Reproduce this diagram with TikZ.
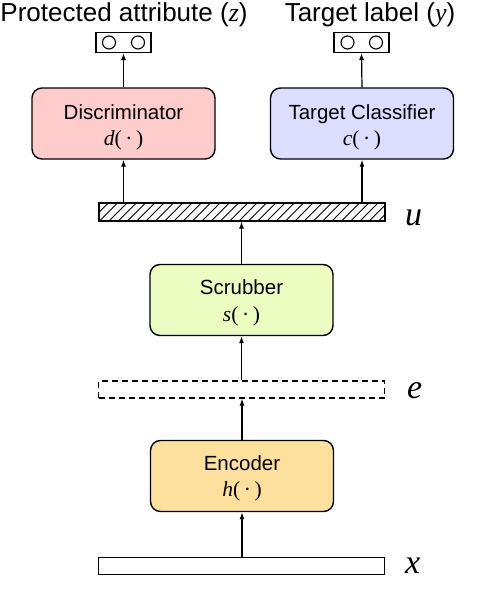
\documentclass[tikz,border=0pt]{standalone}
\usepackage{fontspec}
\setmainfont{Liberation Serif}
\setsansfont{Liberation Sans}
\usetikzlibrary{arrows.meta}
\definecolor{discfill}{HTML}{FFCCCC}
\definecolor{clsfill}{HTML}{DDDDFF}
\definecolor{scrfill}{HTML}{EDFDC2}
\definecolor{encfill}{HTML}{FEE09E}
\begin{document}
\begin{tikzpicture}[x=1pt,y=-1pt,
 box/.style={draw, line width=1.4pt, rounded corners=10pt, minimum width=183pt, minimum height=71pt, inner sep=0pt},
 bar/.style={draw, line width=1.1pt, minimum width=286pt, minimum height=17pt, inner sep=0pt},
 outbox/.style={draw, line width=1.1pt, minimum width=55pt, minimum height=20pt, inner sep=0pt},
 arr/.style={-{Latex[length=7pt,width=5pt]}, line width=1.2pt},
 sflab/.style={font=\sffamily\fontsize{20.5}{22}\selectfont, anchor=base, inner sep=0pt},
 fnlab/.style={font=\fontsize{21.5}{22}\selectfont, anchor=base, inner sep=0pt},
 varlab/.style={font=\itshape\fontsize{34}{36}\selectfont, anchor=base west, inner sep=0pt},
 titlelab/.style={font=\sffamily\fontsize{26}{28}\selectfont, anchor=base, inner sep=0pt},
 dotc/.style={circle, draw, line width=1.1pt, minimum size=13pt, inner sep=0pt}]
\useasboundingbox (0,0) rectangle (486,610);

% titles
\node[titlelab] (tz) at (124,22) {Protected attribute ({\rmfamily\itshape z})};
\node[titlelab] (ty) at (370,22) {Target label ({\rmfamily\itshape y})};

% output boxes
\node[outbox] (oz) at (123.5,42.5) {};
\node[dotc] (oz1) at (109,42.5) {};
\node[dotc] (oz2) at (138,42.5) {};
\node[outbox] (oy) at (361.5,42.5) {};
\node[dotc] (oy1) at (347.5,42.5) {};
\node[dotc] (oy2) at (376,42.5) {};

% discriminator and classifier
\node[box, fill=discfill] (disc) at (123.5,123.5) {};
\node[sflab] (disct) at (123.5,119) {Discriminator};
\node[fnlab] (discf) at (123.5,145) {\textit{d}(\,·\,)};
\node[box, fill=clsfill] (cls) at (362,123.5) {};
\node[sflab] (clst) at (362,119) {Target Classifier};
\node[fnlab] (clsf) at (362,145) {\textit{c}(\,·\,)};

% u bar (hatched)
\node[bar, minimum height=18pt] (u) at (242,212) {};
\begin{scope}
\clip (u.south west) rectangle (u.north east);
\foreach \i in {0,...,34} \draw[line width=0.9pt] (u.south west) ++(\i*9.3-18,0) -- ++(18,-18);
\end{scope}
\node[varlab] (ul) at (405,225) {u};

% scrubber
\node[box, fill=scrfill] (scr) at (241.5,300) {};
\node[sflab] (scrt) at (241.5,294) {Scrubber};
\node[fnlab] (scrf) at (241.5,321) {\textit{s}(\,·\,)};

% e bar (dashed)
\node[bar, dash pattern=on 6pt off 4pt] (e) at (241.5,389.5) {};
\node[varlab] (el) at (407,398) {e};

% encoder
\node[box, fill=encfill] (enc) at (242,476) {};
\node[sflab] (enct) at (242,470) {Encoder};
\node[fnlab] (encf) at (242,496) {\textit{h}(\,·\,)};

% x bar
\node[bar] (x) at (241.5,566) {};
\node[varlab] (xl) at (405,573) {x};

% arrows
\draw[arr] (disc.north) -- (oz.south);
\draw[arr] (cls.north) -- (oy.south);
\draw[arr] (disc.south |- u.north) -- (disc.south);
\draw[arr] (cls.south |- u.north) -- (cls.south);
\draw[arr] (scr.north) -- (scr.north |- u.south);
\draw[arr] (scr.south |- e.north) -- (scr.south);
\draw[arr] (enc.north) -- (enc.north |- e.south);
\draw[arr] (enc.south |- x.north) -- (enc.south);
\end{tikzpicture}
\end{document}
